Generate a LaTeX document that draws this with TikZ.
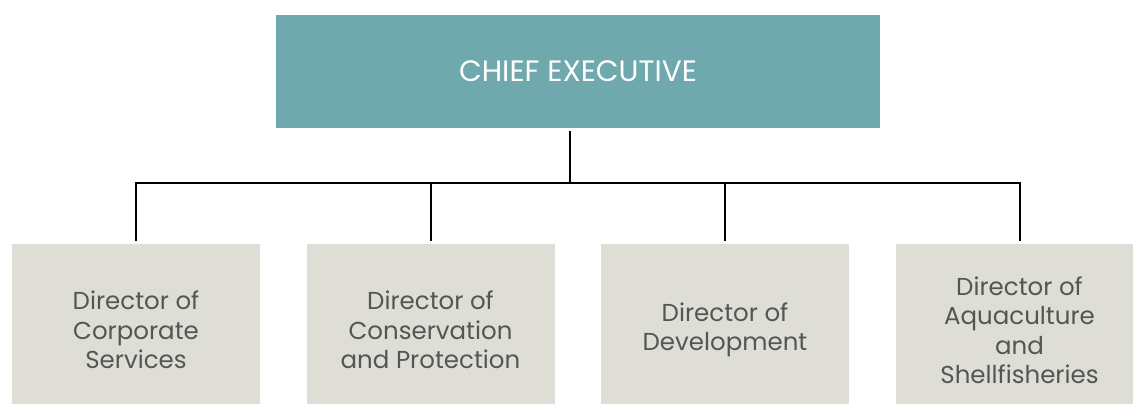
\documentclass[tikz,border=0pt]{standalone}
\usepackage{fontspec}
\setmainfont{Poppins}
\usetikzlibrary{positioning}

\definecolor{chiefteal}{HTML}{6FA9AD}
\definecolor{dirgrey}{HTML}{DFDED6}
\definecolor{dirtext}{HTML}{555555}

\tikzset{
  chiefbox/.style={fill=chiefteal, text=white, minimum width=604pt,
    minimum height=113pt, inner sep=0pt, outer sep=3pt,
    font=\fontsize{29.5}{34}\selectfont},
  dirbox/.style={fill=dirgrey, text=dirtext, minimum width=248pt,
    minimum height=172pt, inner sep=0pt, outer sep=3pt, align=center,
    font=\fontsize{24.5}{29.5}\selectfont},
  link/.style={draw=black, line width=2pt}
}

\begin{document}
\begin{tikzpicture}[x=1pt,y=1pt]
  \useasboundingbox (0,0) rectangle (1133,-404);
  % top level
  \node[chiefbox] (chief) at (578,-71.5) {CHIEF EXECUTIVE};
  % directors
  \node[dirbox] (corp) at (136,-330) {Director of\\Corporate\\Services};
  \node[dirbox, right=40.5pt of corp] (cons) {Director of\\Conservation\\and Protection};
  \node[dirbox, right=40.5pt of cons] (dev) {Director of\\Development};
  \node[dirbox, right=40.5pt of dev] (aqua) {Director of\\Aquaculture\\and\\Shellfisheries};
  % connectors
  \coordinate (bus) at (570,-183);
  \begin{scope}[link]
    \draw (bus |- chief.south) -- (bus);
    \draw (corp.north) |- (bus);
    \draw (aqua.north) |- (bus);
    \draw (cons.north) -- (cons.north |- bus);
    \draw (dev.north) -- (dev.north |- bus);
  \end{scope}
\end{tikzpicture}
\end{document}
